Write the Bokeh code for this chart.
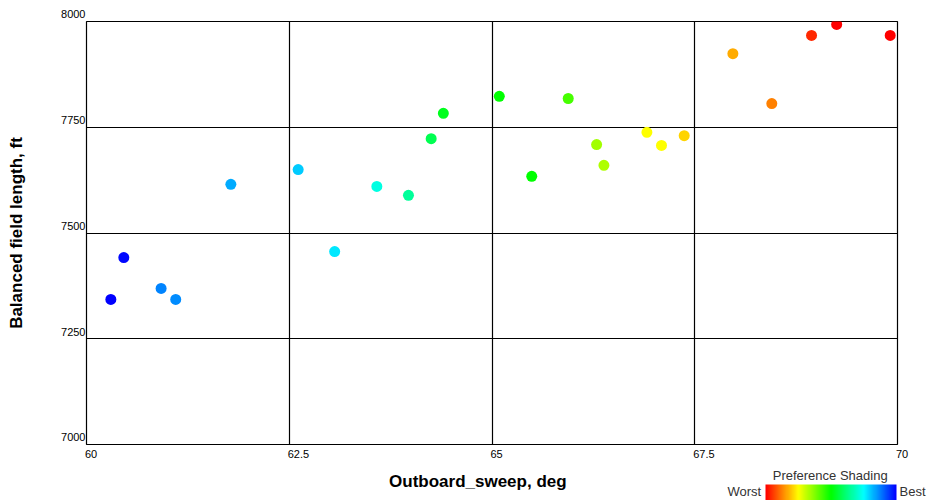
import colorsys
from bokeh.plotting import figure
from bokeh.models import (ColumnDataSource, LinearColorMapper, ColorBar, FixedTicker,
                          Range1d, CustomJSTickFormatter)
from bokeh.embed import file_html
from bokeh.resources import INLINE

# ---- data ----
sweep = [60.30, 60.46, 60.92, 61.10, 61.78, 62.61, 63.06, 63.58, 63.97, 64.25, 64.40, 65.09,
         65.49, 65.94, 66.29, 66.38, 66.91, 67.09, 67.37, 67.97, 68.45, 68.94, 69.25, 69.91]
bfl = [7343, 7442, 7369, 7343, 7615, 7650, 7456, 7610, 7589, 7723, 7783, 7823,
       7634, 7818, 7709, 7660, 7738, 7707, 7730, 7924, 7806, 7967, 7993, 7967]
preference = [1.00, 0.99, 0.87, 0.86, 0.83, 0.80, 0.77, 0.72, 0.65, 0.58, 0.53, 0.50,
              0.50, 0.43, 0.34, 0.33, 0.25, 0.25, 0.21, 0.17, 0.125, 0.04, 0.0, 0.0]
x_ticks = [60, 62.5, 65, 67.5, 70]
y_ticks = [7000, 7250, 7500, 7750, 8000]

# hue palette: red (worst) -> blue (best)
palette = []
for i in range(256):
    r, g, b = colorsys.hsv_to_rgb((240.0 * i / 255) / 360.0, 1.0, 1.0)
    palette.append("#%02x%02x%02x" % (int(r * 255), int(g * 255), int(b * 255)))
mapper = LinearColorMapper(palette=palette, low=0, high=1)

src = ColumnDataSource(dict(x=sweep, y=bfl, pref=preference))

p = figure(width=927, height=500, output_backend="svg", toolbar_location=None,
           x_range=Range1d(60, 70), y_range=Range1d(7000, 8000),
           frame_width=811, frame_height=423,
           min_border_left=86, min_border_right=30, min_border_top=21, min_border_bottom=56)
p.outline_line_color = "black"
p.outline_line_width = 1.2
p.background_fill_color = "white"
p.border_fill_color = "white"

for ax in (p.xaxis[0], p.yaxis[0]):
    ax.major_tick_in = 0
    ax.major_tick_out = 0
    ax.minor_tick_in = 0
    ax.minor_tick_out = 0
    ax.axis_line_color = None
    ax.major_label_text_font = "Liberation Sans"
    ax.major_label_text_font_size = "11px"
    ax.major_label_text_color = "black"
    ax.axis_label_text_font = "Liberation Sans"
    ax.axis_label_text_font_style = "bold"
    ax.axis_label_text_font_size = "17px"
    ax.axis_label_text_color = "black"

p.xaxis.formatter = CustomJSTickFormatter(
    code="var s = tick.toString(); return '\\u00a0'.repeat(Math.round(s.length * 1.5)) + s;")
p.yaxis.formatter = CustomJSTickFormatter(code="return tick.toString() + '\\n\\u00a0';")
p.xaxis.ticker = FixedTicker(ticks=x_ticks)
p.yaxis.ticker = FixedTicker(ticks=y_ticks)
p.xaxis.axis_label = "Outboard_sweep, deg" + "\u00a0" * 6
p.yaxis.axis_label = "Balanced field length, ft"
p.xaxis.major_label_standoff = 3
p.yaxis.major_label_standoff = 1
p.xaxis.axis_label_standoff = 9
p.yaxis.axis_label_standoff = 32

p.xgrid.ticker = FixedTicker(ticks=x_ticks)
p.ygrid.ticker = FixedTicker(ticks=y_ticks)
p.grid.grid_line_color = "black"
p.grid.grid_line_width = 1.2

p.scatter("x", "y", source=src, size=11, line_color=None,
          fill_color={"field": "pref", "transform": mapper})

# preference shading legend
cb = ColorBar(color_mapper=mapper, orientation="horizontal", width=131, height=16,
              location=(679, -56), padding=0, ticker=FixedTicker(ticks=[]),
              major_tick_line_color=None, bar_line_color=None,
              title="\u00a0\u00a0Preference Shading", title_text_font="Liberation Sans",
              title_text_font_size="13px", title_text_font_style="normal",
              title_text_color="#333333", title_standoff=3,
              background_fill_color=None, border_line_color=None)
p.add_layout(cb, "center")

# end labels, drawn as titles of invisible colour bars
for txt, xpos in (("Worst", 641), ("Best", 813)):
    lab = ColorBar(color_mapper=mapper, orientation="horizontal", width=30, height=1,
                   location=(xpos, -55), padding=0, ticker=FixedTicker(ticks=[]),
                   major_tick_line_color=None, bar_line_color=None, scale_alpha=0,
                   title=txt, title_text_font="Liberation Sans", title_text_font_size="13px",
                   title_text_font_style="normal", title_text_color="#333333",
                   title_standoff=0, background_fill_color=None, border_line_color=None)
    p.add_layout(lab, "center")

open("out.html", "w").write(file_html(p, INLINE))
